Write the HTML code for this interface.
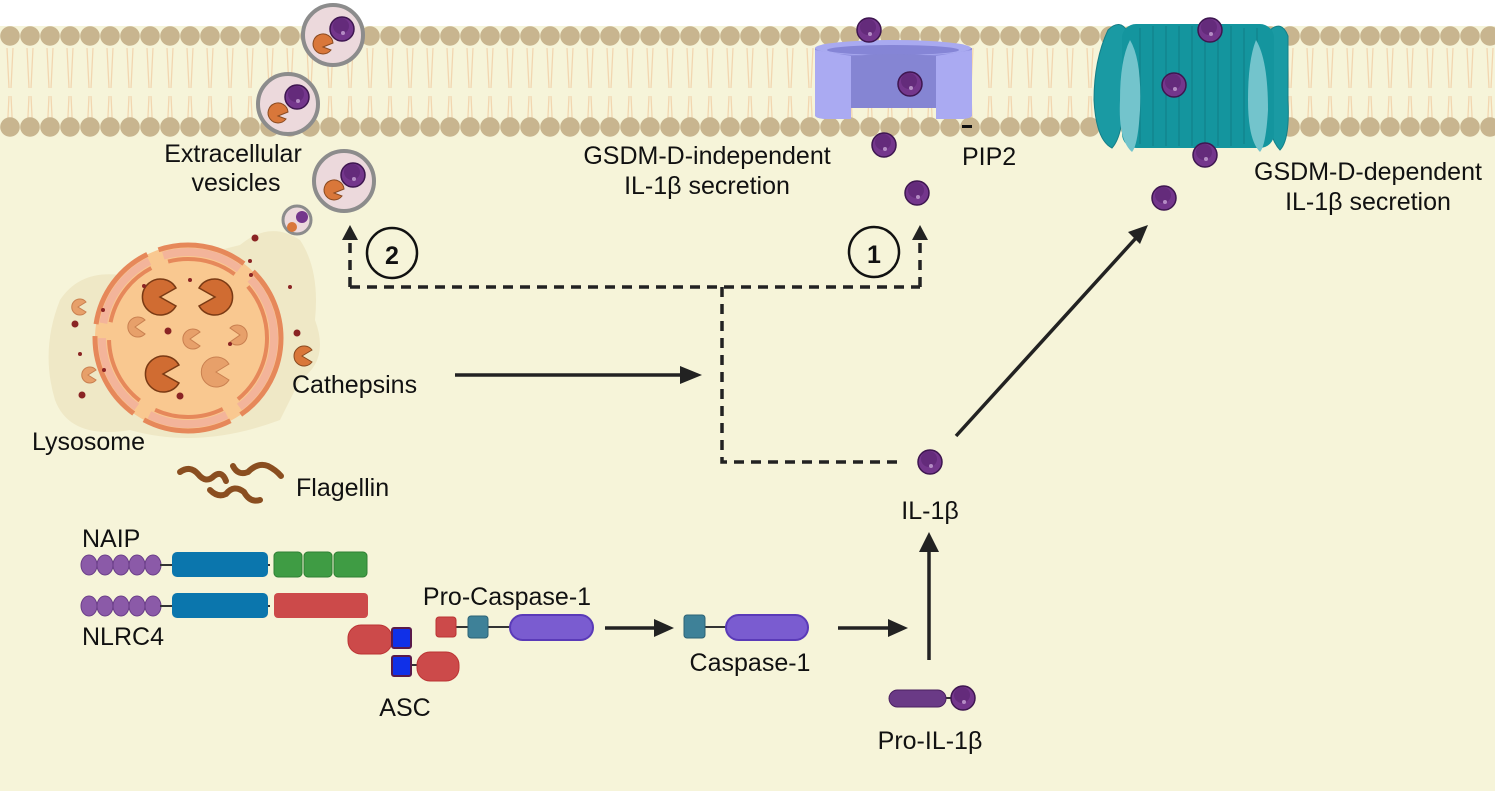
<!DOCTYPE html>
<html><head><meta charset="utf-8"><style>
html,body{margin:0;padding:0;background:#fff;}
svg{display:block;}
text{font-family:"Liberation Sans",sans-serif;fill:#111;font-size:25px;}
</style></head><body>
<svg width="1495" height="791" viewBox="0 0 1495 791" xmlns="http://www.w3.org/2000/svg">
<defs>
<g id="p"><circle r="12" fill="#74368c" stroke="#3e1650" stroke-width="1.5"/><circle cx="-1" cy="-3" r="8" fill="#5a2470" opacity="0.6"/><circle cx="1" cy="4" r="2" fill="#b48cc4"/></g>
<pattern id="tails" x="0" y="0" width="20" height="92" patternUnits="userSpaceOnUse">
<path d="M7,44 L9,4 M13,44 L11,4 M7,48 L9,88 M13,48 L11,88" stroke="#f2d6b0" stroke-width="1.3" fill="none"/></pattern>
</defs>
<rect width="1495" height="791" fill="#f6f4d9"/>
<rect width="1495" height="26" fill="#fff"/>
<rect x="0" y="36" width="1495" height="92" fill="url(#tails)"/>
<g id="row">
<g fill="#c8b58f">
<circle cx="10" cy="36" r="9.8"/><circle cx="30" cy="36" r="9.8"/><circle cx="50" cy="36" r="9.8"/><circle cx="70" cy="36" r="9.8"/><circle cx="90" cy="36" r="9.8"/><circle cx="110" cy="36" r="9.8"/><circle cx="130" cy="36" r="9.8"/><circle cx="150" cy="36" r="9.8"/><circle cx="170" cy="36" r="9.8"/><circle cx="190" cy="36" r="9.8"/><circle cx="210" cy="36" r="9.8"/><circle cx="230" cy="36" r="9.8"/><circle cx="250" cy="36" r="9.8"/><circle cx="270" cy="36" r="9.8"/><circle cx="290" cy="36" r="9.8"/><circle cx="310" cy="36" r="9.8"/><circle cx="330" cy="36" r="9.8"/><circle cx="350" cy="36" r="9.8"/><circle cx="370" cy="36" r="9.8"/><circle cx="390" cy="36" r="9.8"/><circle cx="410" cy="36" r="9.8"/><circle cx="430" cy="36" r="9.8"/><circle cx="450" cy="36" r="9.8"/><circle cx="470" cy="36" r="9.8"/><circle cx="490" cy="36" r="9.8"/><circle cx="510" cy="36" r="9.8"/><circle cx="530" cy="36" r="9.8"/><circle cx="550" cy="36" r="9.8"/><circle cx="570" cy="36" r="9.8"/><circle cx="590" cy="36" r="9.8"/><circle cx="610" cy="36" r="9.8"/><circle cx="630" cy="36" r="9.8"/><circle cx="650" cy="36" r="9.8"/><circle cx="670" cy="36" r="9.8"/><circle cx="690" cy="36" r="9.8"/><circle cx="710" cy="36" r="9.8"/><circle cx="730" cy="36" r="9.8"/><circle cx="750" cy="36" r="9.8"/><circle cx="770" cy="36" r="9.8"/><circle cx="790" cy="36" r="9.8"/><circle cx="810" cy="36" r="9.8"/><circle cx="830" cy="36" r="9.8"/><circle cx="850" cy="36" r="9.8"/><circle cx="870" cy="36" r="9.8"/><circle cx="890" cy="36" r="9.8"/><circle cx="910" cy="36" r="9.8"/><circle cx="930" cy="36" r="9.8"/><circle cx="950" cy="36" r="9.8"/><circle cx="970" cy="36" r="9.8"/><circle cx="990" cy="36" r="9.8"/><circle cx="1010" cy="36" r="9.8"/><circle cx="1030" cy="36" r="9.8"/><circle cx="1050" cy="36" r="9.8"/><circle cx="1070" cy="36" r="9.8"/><circle cx="1090" cy="36" r="9.8"/><circle cx="1110" cy="36" r="9.8"/><circle cx="1130" cy="36" r="9.8"/><circle cx="1150" cy="36" r="9.8"/><circle cx="1170" cy="36" r="9.8"/><circle cx="1190" cy="36" r="9.8"/><circle cx="1210" cy="36" r="9.8"/><circle cx="1230" cy="36" r="9.8"/><circle cx="1250" cy="36" r="9.8"/><circle cx="1270" cy="36" r="9.8"/><circle cx="1290" cy="36" r="9.8"/><circle cx="1310" cy="36" r="9.8"/><circle cx="1330" cy="36" r="9.8"/><circle cx="1350" cy="36" r="9.8"/><circle cx="1370" cy="36" r="9.8"/><circle cx="1390" cy="36" r="9.8"/><circle cx="1410" cy="36" r="9.8"/><circle cx="1430" cy="36" r="9.8"/><circle cx="1450" cy="36" r="9.8"/><circle cx="1470" cy="36" r="9.8"/><circle cx="1490" cy="36" r="9.8"/>
</g></g>
<use href="#row" y="91"/>

<!-- GSDM-independent channel -->
<path d="M815,48 L815,115 Q815,119 830,119 L851,119 L851,108 L936,108 L936,119 L958,119 Q972,119 972,115 L972,48 Z" fill="#8f8fde"/>
<ellipse cx="893" cy="48" rx="78" ry="8" fill="#a9aaf0"/>
<ellipse cx="893" cy="50" rx="66" ry="5" fill="#8585d6"/>
<path d="M851,56 L851,108 L936,108 L936,56 Q893,52 851,56Z" fill="#8585d3"/>
<path d="M815,50 L851,56 L851,119 L830,119 Q815,119 815,115Z" fill="#aaaaf2"/>
<path d="M936,56 L972,50 L972,115 Q972,119 958,119 L936,119Z" fill="#aaaaf2"/>
<rect x="962" y="125" width="10" height="3" fill="#111"/>

<!-- GSDM-D pore -->
<g fill="#1a9aa3" stroke="#157f88" stroke-width="1">
<path d="M1108,30 Q1120,18 1128,32 L1124,90 Q1124,135 1112,148 Q1096,140 1094,100 Q1094,60 1108,30 Z"/>
<path d="M1270,30 Q1282,20 1288,36 L1288,100 Q1290,140 1280,150 Q1268,138 1266,100 Z"/>
</g>
<rect x="1122" y="24" width="152" height="124" rx="14" fill="#14959e"/>
<g stroke="#0f7d85" stroke-width="1" fill="none">
<path d="M1140,28 L1140,144 M1153,26 L1153,146 M1166,26 L1166,146 M1179,26 L1179,146 M1192,26 L1192,146 M1205,26 L1205,146 M1218,26 L1218,146 M1231,26 L1231,146 M1244,28 L1244,144 M1257,28 L1257,144"/>
</g>
<path d="M1130,40 Q1142,60 1140,110 Q1138,145 1132,152 Q1118,140 1120,100 Q1120,60 1130,40Z" fill="#73c4cc"/>
<path d="M1256,40 Q1268,60 1268,110 Q1266,145 1260,152 Q1248,140 1248,100 Q1248,60 1256,40Z" fill="#73c4cc"/>

<!-- particles -->
<use href="#p" x="869" y="30"/><use href="#p" x="910" y="84"/><use href="#p" x="884" y="145"/><use href="#p" x="917" y="193"/>
<use href="#p" x="1210" y="30"/><use href="#p" x="1174" y="85"/><use href="#p" x="1205" y="155"/><use href="#p" x="1164" y="198"/>
<use href="#p" x="930" y="462"/>

<!-- vesicles -->
<circle cx="333" cy="35" r="30" fill="#ecd9dc" stroke="#8c8c8c" stroke-width="4"/>
<use href="#p" x="342" y="29"/>
<path d="M323,47 l10,-4 a10,10 0 1,0 -2,7z" fill="#d9773a" stroke="#8a4a20" stroke-width="1"/>
<circle cx="288" cy="104" r="30" fill="#ecd9dc" stroke="#8c8c8c" stroke-width="4"/>
<use href="#p" x="297" y="97"/>
<path d="M278,116 l10,-4 a10,10 0 1,0 -2,7z" fill="#d9773a" stroke="#8a4a20" stroke-width="1"/>
<circle cx="344" cy="181" r="30" fill="#ecd9dc" stroke="#8c8c8c" stroke-width="4"/>
<use href="#p" x="353" y="175"/>
<path d="M334,193 l10,-4 a10,10 0 1,0 -2,7z" fill="#d9773a" stroke="#8a4a20" stroke-width="1"/>
<circle cx="297" cy="220" r="14" fill="#ecd9dc" stroke="#8c8c8c" stroke-width="3"/>
<circle cx="302" cy="217" r="6" fill="#74368c"/>
<circle cx="292" cy="227" r="5" fill="#d9773a"/>

<!-- lysosome -->
<path d="M60,300 Q80,270 120,275 L240,245 Q270,220 300,240 Q320,270 315,320 Q330,360 300,380 L280,420 Q200,450 130,430 Q70,440 55,400 Q40,350 60,300Z" fill="#efe8c6"/>
<circle cx="188" cy="338" r="93" fill="#f9c890"/>
<g fill="none" stroke-linecap="butt">
<circle cx="188" cy="338" r="93" stroke="#e6885a" stroke-width="5" stroke-dasharray="90 12"/>
<circle cx="188" cy="338" r="86" stroke="#f3b49a" stroke-width="8" stroke-dasharray="80 15"/>
<circle cx="188" cy="338" r="79" stroke="#e6885a" stroke-width="4" stroke-dasharray="70 18"/>
</g>
<g stroke="#7a3a14" stroke-width="1.5" fill="#d06c32">
<path d="M160,297 L176,288 A18,18 0 1,0 176,306 Z"/>
<path d="M215,297 L199,288 A18,18 0 1,1 199,306 Z"/>
<path d="M163,374 L179,365 A18,18 0 1,0 179,383 Z"/>
</g>
<g fill="#e7a06a" stroke="#c98050" stroke-width="1">
<path d="M216,372 L229,364 A15,15 0 1,0 229,380 Z"/>
<path d="M135,327 L145,320 A10,10 0 1,0 145,334 Z"/>
<path d="M190,339 L200,332 A10,10 0 1,0 200,346 Z"/>
<path d="M240,335 L230,328 A10,10 0 1,1 230,342 Z"/>
<path d="M78,307 L86,302 A8,8 0 1,0 86,312 Z"/>
<path d="M88,375 L96,370 A8,8 0 1,0 96,380 Z"/>
</g>
<path d="M302,356 L312,350 A10,10 0 1,0 312,362 Z" fill="#d9773a" stroke="#8a4a20"/>
<g fill="#8a2424">
<circle cx="255" cy="238" r="3.5"/><circle cx="75" cy="324" r="3.5"/><circle cx="168" cy="331" r="3.5"/><circle cx="297" cy="333" r="3.5"/><circle cx="82" cy="395" r="3.5"/><circle cx="180" cy="396" r="3.5"/>
<circle cx="190" cy="280" r="2"/><circle cx="144" cy="286" r="2"/><circle cx="250" cy="261" r="2"/><circle cx="290" cy="287" r="2"/><circle cx="251" cy="275" r="2"/><circle cx="230" cy="344" r="2"/><circle cx="80" cy="354" r="2"/><circle cx="103" cy="310" r="2"/><circle cx="104" cy="370" r="2"/>
</g>

<!-- flagellin -->
<g fill="none" stroke="#8a4e20" stroke-width="6" stroke-linecap="round">
<path d="M180,472 Q190,465 198,474 Q206,484 214,476 Q222,470 226,481"/>
<path d="M233,466 Q238,476 248,472 Q258,462 268,466 Q276,470 281,476"/>
<path d="M210,490 Q218,498 226,494 Q234,484 244,492 Q250,503 260,500"/>
</g>

<!-- dashed connectors -->
<g stroke="#222" stroke-width="3.5" fill="none" stroke-dasharray="10 7">
<path d="M350,287 L920,287"/>
<path d="M350,287 L350,238"/>
<path d="M920,287 L920,238"/>
<path d="M722,287 L722,462 L900,462"/>
</g>
<path d="M342,240 L350,225 L358,240Z" fill="#222"/>
<path d="M912,240 L920,225 L928,240Z" fill="#222"/>
<circle cx="392" cy="253" r="25" fill="none" stroke="#111" stroke-width="2.5"/>
<text x="392" y="264" text-anchor="middle" font-size="30" font-weight="bold">2</text>
<circle cx="874" cy="252" r="25" fill="none" stroke="#111" stroke-width="2.5"/>
<text x="874" y="263" text-anchor="middle" font-size="30" font-weight="bold">1</text>

<!-- solid arrows -->
<g stroke="#222" stroke-width="3.5" fill="none">
<path d="M455,375 L690,375"/>
<path d="M956,436 L1136,238"/>
<path d="M929,660 L929,550"/>
<path d="M605,628 L655,628"/>
<path d="M838,628 L890,628"/>
</g>
<path d="M680,366 L702,375 L680,384Z" fill="#222"/>
<path d="M1128,232 L1148,225 L1140,244Z" fill="#222"/>
<path d="M919,552 L929,532 L939,552Z" fill="#222"/>
<path d="M654,619 L674,628 L654,637Z" fill="#222"/>
<path d="M888,619 L908,628 L888,637Z" fill="#222"/>

<!-- NAIP/NLRC4 -->
<g fill="#8b5aa8" stroke="#6a3e88" stroke-width="1">
<ellipse cx="89" cy="565" rx="8" ry="10"/><ellipse cx="105" cy="565" rx="8" ry="10"/><ellipse cx="121" cy="565" rx="8" ry="10"/><ellipse cx="137" cy="565" rx="8" ry="10"/><ellipse cx="153" cy="565" rx="8" ry="10"/>
<ellipse cx="89" cy="606" rx="8" ry="10"/><ellipse cx="105" cy="606" rx="8" ry="10"/><ellipse cx="121" cy="606" rx="8" ry="10"/><ellipse cx="137" cy="606" rx="8" ry="10"/><ellipse cx="153" cy="606" rx="8" ry="10"/>
</g>
<g stroke="#333" stroke-width="2"><path d="M160,565 L175,565 M264,565 L270,565 M160,606 L175,606 M264,606 L270,606"/></g>
<rect x="172" y="552" width="96" height="25" rx="5" fill="#0b76ad"/>
<rect x="172" y="593" width="96" height="25" rx="5" fill="#0b76ad"/>
<g fill="#3f9c44" stroke="#2f7f33"><rect x="274" y="552" width="28" height="25" rx="4"/><rect x="304" y="552" width="28" height="25" rx="4"/><rect x="334" y="552" width="33" height="25" rx="4"/></g>
<rect x="274" y="593" width="94" height="25" rx="4" fill="#cc4a4a"/>
<!-- ASC -->
<path d="M390,638 L395,638 M405,665 L420,665" stroke="#333" stroke-width="2"/>
<rect x="348" y="625" width="44" height="29" rx="13" fill="#cc4a4a" stroke="#b33"/>
<rect x="392" y="628" width="19" height="20" rx="2" fill="#1030e8" stroke="#5a1a4a" stroke-width="2"/>
<rect x="392" y="656" width="19" height="20" rx="2" fill="#1030e8" stroke="#5a1a4a" stroke-width="2"/>
<rect x="417" y="652" width="42" height="29" rx="13" fill="#cc4a4a" stroke="#b33"/>
<!-- Pro-caspase-1 -->
<path d="M455,627 L470,627 M486,627 L512,627" stroke="#333" stroke-width="2"/>
<rect x="436" y="617" width="20" height="20" rx="3" fill="#cc4a4a" stroke="#b33"/>
<rect x="468" y="616" width="20" height="22" rx="3" fill="#3e8198" stroke="#2c6275"/>
<rect x="510" y="615" width="83" height="25" rx="12.5" fill="#7a5cd0" stroke="#5a3ab8" stroke-width="2"/>
<!-- Caspase-1 -->
<path d="M704,627 L728,627" stroke="#333" stroke-width="2"/>
<rect x="684" y="615" width="21" height="23" rx="3" fill="#3e8198" stroke="#2c6275"/>
<rect x="726" y="615" width="82" height="25" rx="12.5" fill="#7a5cd0" stroke="#5a3ab8" stroke-width="2"/>
<!-- Pro-IL-1b -->
<path d="M945,698 L955,698" stroke="#333" stroke-width="2"/>
<rect x="889" y="690" width="57" height="17" rx="8.5" fill="#6a3a86" stroke="#4a2060"/>
<use href="#p" x="963" y="698"/>

<!-- labels -->
<text x="233" y="162" text-anchor="middle">Extracellular</text>
<text x="236" y="191" text-anchor="middle">vesicles</text>
<text x="707" y="164" text-anchor="middle">GSDM-D-independent</text>
<text x="707" y="194" text-anchor="middle">IL-1β secretion</text>
<text x="962" y="165">PIP2</text>
<text x="1368" y="180" text-anchor="middle">GSDM-D-dependent</text>
<text x="1368" y="210" text-anchor="middle">IL-1β secretion</text>
<text x="292" y="393">Cathepsins</text>
<text x="32" y="450">Lysosome</text>
<text x="296" y="496">Flagellin</text>
<text x="82" y="547">NAIP</text>
<text x="82" y="645">NLRC4</text>
<text x="405" y="716" text-anchor="middle">ASC</text>
<text x="507" y="605" text-anchor="middle">Pro-Caspase-1</text>
<text x="750" y="671" text-anchor="middle">Caspase-1</text>
<text x="930" y="519" text-anchor="middle">IL-1β</text>
<text x="930" y="749" text-anchor="middle">Pro-IL-1β</text>
</svg>
</body></html>
